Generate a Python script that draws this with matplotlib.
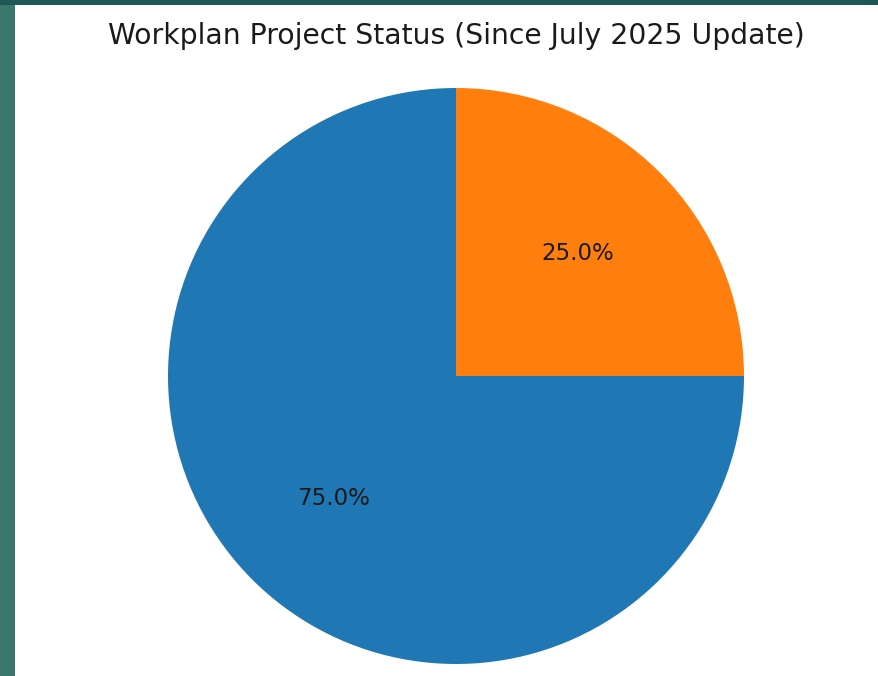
import matplotlib
matplotlib.use("Agg")
import matplotlib.pyplot as plt
from matplotlib.patches import Rectangle

categories = ["Completed", "Remaining"]
values = [75, 25]
colors = ["#1f77b4", "#ff7f0e"]
title = "Workplan Project Status (Since July 2025 Update)"

W, H = 879, 676
fig = plt.figure(figsize=(W / 100, H / 100), dpi=100)
fig.patch.set_facecolor("white")

# screenshot border
fig.patches.append(Rectangle((0, 0), 15 / W, 1, transform=fig.transFigure,
                             facecolor="#3a786e", edgecolor="none", zorder=0))
fig.patches.append(Rectangle((0, 1 - 5 / H), 1, 5 / H, transform=fig.transFigure,
                             facecolor="#1f5656", edgecolor="none", zorder=0))

cx, cy, r = 456, 376, 288
ax = fig.add_axes([(cx - r) / W, (H - cy - r) / H, 2 * r / W, 2 * r / H])
ax.pie(values, labels=None, colors=colors, autopct="%1.1f%%", startangle=90,
       pctdistance=0.6, textprops={"fontsize": 16.5, "color": "#1a1a1a"})
ax.set_xlim(-1, 1)
ax.set_ylim(-1, 1)
ax.set_aspect("equal")
ax.axis("off")

fig.text(cx / W, 1 - 36 / H, title, ha="center", va="center", fontsize=20.3, color="#1a1a1a")

fig.savefig("out.png", dpi=100)
